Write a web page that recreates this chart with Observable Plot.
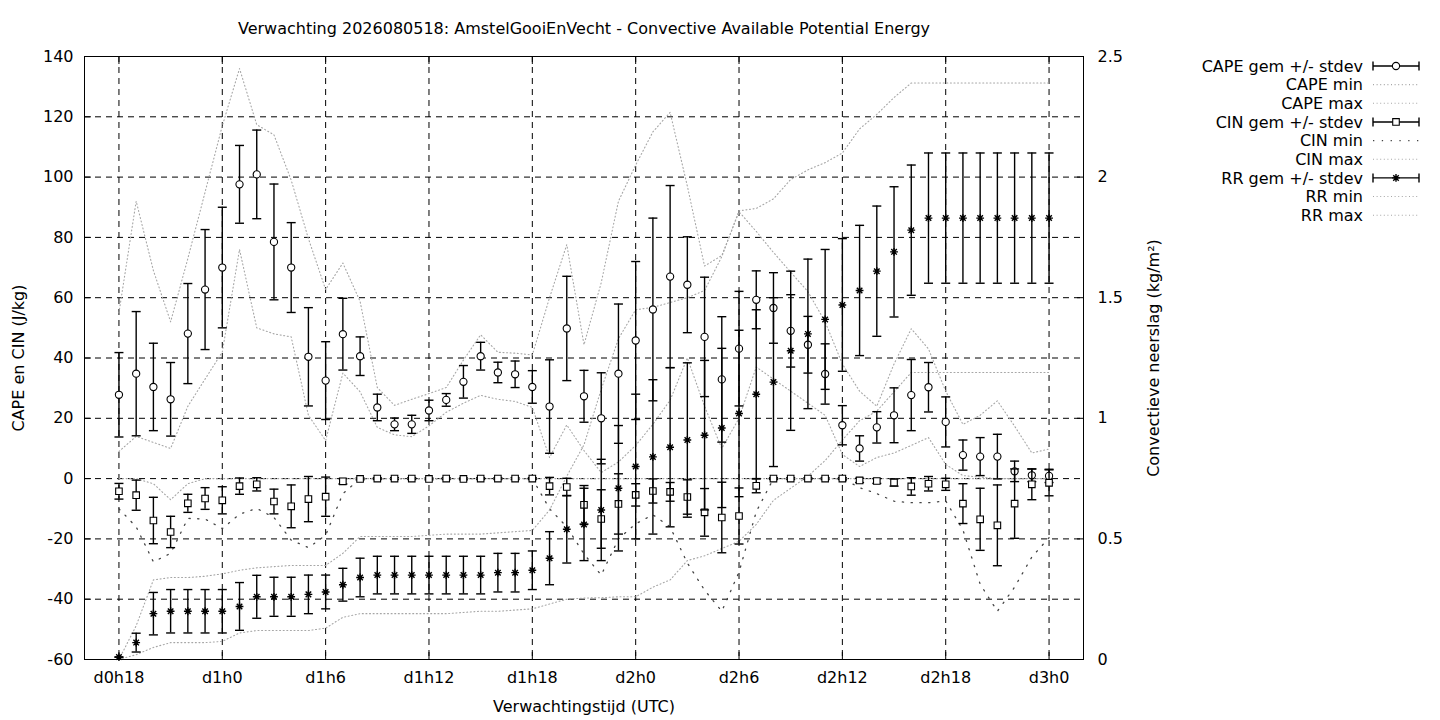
<!DOCTYPE html>
<html><head><meta charset="utf-8">
<script src="https://cdn.jsdelivr.net/npm/d3@7"></script>
<script src="https://cdn.jsdelivr.net/npm/@observablehq/plot@0.6"></script>
<style>html,body{margin:0;padding:0;background:#fff;}</style>
</head><body><div id="chart"></div>
<script>
const title = "Verwachting 2026080518: AmstelGooiEnVecht - Convective Available Potential Energy";
const xTitle = "Verwachtingstijd (UTC)";
const yTitle = "CAPE en CIN (J/kg)";
const y2Title = "Convectieve neerslag (kg/m²)";

const hours = [18,19,20,21,22,23,24,25,26,27,28,29,30,31,32,33,34,35,36,37,38,39,40,41,42,43,44,45,46,47,48,49,50,51,52,53,54,55,56,57,58,59,60,61,62,63,64,65,66,67,68,69,70,71,72];
const xTicks = [18,24,30,36,42,48,54,60,66,72];
const xTickLabels = ["d0h18","d1h0","d1h6","d1h12","d1h18","d2h0","d2h6","d2h12","d2h18","d3h0"];
const yTicks = [-60,-40,-20,0,20,40,60,80,100,120,140];
const y2Ticks = [0,0.5,1,1.5,2,2.5];
const y2TickLabels = ["0","0.5","1","1.5","2","2.5"];

const capeMean = [27.8,34.8,30.4,26.3,48.1,62.7,70.0,97.6,100.9,78.5,
  70.0,40.4,32.5,47.9,40.6,23.6,18.0,18.0,22.6,26.1,
  32.1,40.6,35.2,34.6,30.4,23.9,49.8,27.3,20.0,34.8,
  45.8,56.1,67.0,64.3,47.0,32.9,43.1,59.3,56.6,49.0,
  44.4,34.7,17.7,10.0,17.0,21.0,27.7,30.3,18.8,7.8,
  7.3,7.3,2.4,1.1,0.9];
const capeSd = [14.0,20.6,14.5,12.2,16.6,19.9,20.0,12.9,14.7,19.2,
  14.9,16.3,12.9,11.9,6.4,4.4,2.1,3.0,3.4,2.1,
  5.4,4.6,3.4,4.4,5.4,15.5,17.3,8.6,15.1,23.1,
  26.2,30.3,30.2,15.9,19.8,20.8,19.0,9.6,11.7,12.0,
  9.4,10.0,6.5,4.2,5.2,9.1,11.8,8.2,8.3,5.0,
  6.3,7.4,3.4,2.1,2.2];
const capeMin = [9,14,12,10,24,33,42,76,50,48,
  47,21,12.6,35,28.8,17,14.5,13.9,17.5,22,
  25,27.6,26.3,25.6,23.6,7,17.8,9.3,2,5.5,
  11,18,26,40,24,10,20,37,33,29,
  25,21,8,4,7,8.5,11,13.6,4.7,1,
  0.5,0,0,0,0];
const capeMax = [55,92,69,52,73,95,117,136,117.4,114,
  99,79.6,62.7,71.5,58.8,30.2,24.3,26.3,28.2,30.2,
  39.3,47.7,41.9,41.6,41,60,77.6,44.4,65,92,
  104,115,121.5,97,70.5,74,88.5,82,75,68.5,
  62,52,38,29,24,38,49.7,43,29,18,
  21,25.8,17.4,8.5,9.8];

const cinMean = [-4.2,-5.5,-13.9,-17.7,-8.2,-6.6,-7.2,-2.5,-1.9,-7.6,
  -9.2,-6.8,-6.0,-0.9,-0.1,0,0,0,-0.1,0,
  -0.1,0,0,0,0,-2.5,-2.8,-8.7,-13.4,-8.4,
  -5.4,-4.1,-4.4,-6.1,-11.2,-12.9,-12.4,-2.4,0,0,
  0,0,0,-0.6,-0.8,-1.3,-2.6,-1.7,-1.9,-8.3,
  -13.5,-15.5,-8.3,-1.9,-1.4];
const cinSd = [2.6,5.0,7.7,5.2,3.0,3.6,4.5,2.7,2.2,4.1,
  7.1,7.5,6.5,0.9,0.3,0.3,0.3,0.3,0.3,0.3,
  0.3,0.3,0.3,0.3,0.3,2.9,2.9,6.4,9.7,10.0,
  3.7,4.0,3.1,5.7,7.9,11.7,9.3,2.3,0.3,0.3,
  0.3,0.3,0.3,0.7,0.8,1.2,2.9,2.4,2.0,6.6,
  10.3,13.4,11.5,5.1,4.3];
const cinMin = [-10,-16,-27.6,-24.8,-13.2,-13.4,-16.6,-11.8,-9.9,-12.9,
  -20.4,-22.9,-18.8,-5,0,0,0,0,0,0,
  0,0,0,0,0,-10,-16,-25,-32,-20,
  -15,-12,-16,-28,-37,-44,-31,-11,0,0,
  0,0,0,-3,-5,-7.5,-8,-8,-7.4,-17,
  -35,-44,-36,-26,-19.6];
const cinMax = [0,0,-1.7,-7,-1.7,0,0,0,0,0,
  0,0,0,0,0,0,0,0,0,0,
  0,0,0,0,0,0,0,0,0,0,
  0,0,0,0,0,0,0,0,0,0,
  0,0,0,0,0,0,0,0,0,0,
  0,0,0,0,0];

const rrMean = [0.01,0.07,0.19,0.20,0.20,0.20,0.20,0.22,0.26,0.26,
  0.26,0.27,0.28,0.31,0.34,0.35,0.35,0.35,0.35,0.35,
  0.35,0.35,0.36,0.36,0.37,0.42,0.54,0.56,0.62,0.71,
  0.80,0.84,0.88,0.91,0.93,0.96,1.02,1.10,1.15,1.28,
  1.35,1.41,1.47,1.53,1.61,1.69,1.78,1.83,1.83,1.83,
  1.83,1.83,1.83,1.83,1.83];
const rrSd = [0,0.039,0.088,0.09,0.09,0.09,0.09,0.099,0.089,0.081,
  0.081,0.08,0.07,0.068,0.08,0.078,0.078,0.078,0.078,0.078,
  0.078,0.078,0.08,0.08,0.08,0.11,0.14,0.15,0.21,0.26,
  0.30,0.32,0.33,0.32,0.31,0.33,0.345,0.35,0.35,0.33,
  0.31,0.29,0.275,0.27,0.27,0.27,0.27,0.27,0.27,0.27,
  0.27,0.27,0.27,0.27,0.27];
const rrMin = [0,0.02,0.05,0.07,0.07,0.07,0.075,0.11,0.12,0.12,
  0.12,0.12,0.13,0.175,0.19,0.19,0.19,0.19,0.19,0.19,
  0.195,0.2,0.2,0.205,0.21,0.23,0.25,0.255,0.256,0.26,
  0.26,0.3,0.33,0.41,0.43,0.46,0.49,0.56,0.66,0.71,
  0.76,0.825,0.91,0.99,1.03,1.11,1.19,1.19,1.19,1.19,
  1.19,1.19,1.19,1.19,1.19];
const rrMax = [0,0.14,0.33,0.34,0.34,0.345,0.355,0.37,0.38,0.385,
  0.39,0.39,0.39,0.44,0.51,0.51,0.51,0.51,0.515,0.52,
  0.52,0.52,0.525,0.53,0.535,0.62,0.76,0.89,1.12,1.33,
  1.45,1.46,1.48,1.5,1.53,1.67,1.86,1.87,1.91,1.99,
  2.03,2.06,2.1,2.2,2.26,2.33,2.39,2.39,2.39,2.39,
  2.39,2.39,2.39,2.39,2.39];

const legendLabels = ["CAPE gem +/- stdev","CAPE min","CAPE max","CIN gem +/- stdev","CIN min","CIN max","RR gem +/- stdev","RR min","RR max"];

// secondary axis (0..2.5 kg/m2) shares the frame with the primary (-60..140 J/kg)
const yDomain = [-60, 140];
const y2Domain = [0, 2.5];
const rrToY = v => yDomain[0] + (v - y2Domain[0]) * (yDomain[1] - yDomain[0]) / (y2Domain[1] - y2Domain[0]);

const rows = hours.map((h, i) => ({
  h,
  cM: capeMean[i], cS: capeSd[i], cMin: capeMin[i], cMax: capeMax[i],
  iM: cinMean[i], iS: cinSd[i], iMin: cinMin[i], iMax: cinMax[i],
  rM: rrToY(rrMean[i]), rLo: rrToY(rrMean[i] - rrSd[i]), rHi: rrToY(rrMean[i] + rrSd[i]),
  rMin: rrToY(rrMin[i]), rMax: rrToY(rrMax[i])
}));

const capSym = {draw(ctx, size) { const w = Math.sqrt(size / Math.PI); ctx.moveTo(-w, 0); ctx.lineTo(w, 0); }};
const vcapSym = {draw(ctx, size) { const w = Math.sqrt(size / Math.PI); ctx.moveTo(0, -w); ctx.lineTo(0, w); }};
const starSym = {draw(ctx, size) {
  const r = Math.sqrt(size / Math.PI), d = r * 0.7071;
  ctx.moveTo(-r, 0); ctx.lineTo(r, 0); ctx.moveTo(0, -r); ctx.lineTo(0, r);
  ctx.moveTo(-d, -d); ctx.lineTo(d, d); ctx.moveTo(-d, d); ctx.lineTo(d, -d);
}};

const FS = 16;
const BAR_W = 1.4, CAP_R = 4.5;
const grid = {stroke: "#000", strokeWidth: 1, strokeDasharray: "6,5", strokeOpacity: 1};
const grayDots = {stroke: "#a6a6a6", strokeWidth: 1.1, strokeDasharray: "1,2.6"};
const cinMinDots = {stroke: "#444", strokeWidth: 1.3, strokeDasharray: "1.3,7.5"};
const STAR_R = 3.9, CIRCLE_R = 3.6, SQUARE_R = 3.7;

function errorMarks(lo, hi, mid, symbol, r, fill, sw) {
  return [
    Plot.ruleX(rows, {x: "h", y1: lo, y2: hi, stroke: "#000", strokeWidth: BAR_W}),
    Plot.dot(rows, {x: "h", y: lo, symbol: capSym, r: CAP_R, stroke: "#000", strokeWidth: BAR_W, fill: "none"}),
    Plot.dot(rows, {x: "h", y: hi, symbol: capSym, r: CAP_R, stroke: "#000", strokeWidth: BAR_W, fill: "none"}),
    Plot.dot(rows, {x: "h", y: mid, symbol, r, stroke: "#000", strokeWidth: sw, fill})
  ];
}

const fmtX = d => xTickLabels[xTicks.indexOf(d)];

const plot = Plot.plot({
  width: 1440, height: 720,
  marginLeft: 84, marginRight: 357, marginTop: 56, marginBottom: 61,
  x: {domain: [16, 74]},
  y: {domain: yDomain},
  style: {fontFamily: "DejaVu Sans", fontSize: FS + "px", background: "#fff", color: "#000"},
  marks: [
    Plot.gridX(xTicks, grid),
    Plot.gridY(yTicks, grid),
    Plot.line(rows, {x: "h", y: "cMin", ...grayDots}),
    Plot.line(rows, {x: "h", y: "cMax", ...grayDots}),
    Plot.line(rows, {x: "h", y: "iMin", ...cinMinDots}),
    Plot.line(rows, {x: "h", y: "iMax", ...grayDots}),
    Plot.line(rows, {x: "h", y: "rMin", ...grayDots}),
    Plot.line(rows, {x: "h", y: "rMax", ...grayDots}),
    ...errorMarks(d => d.cM - d.cS, d => d.cM + d.cS, "cM", "circle", CIRCLE_R, "#fff", 1.1),
    ...errorMarks(d => d.iM - d.iS, d => d.iM + d.iS, "iM", "square", SQUARE_R, "#fff", 1.1),
    ...errorMarks("rLo", "rHi", "rM", starSym, STAR_R, "none", 1.4),
    Plot.frame({stroke: "#000", strokeWidth: 1}),
    // inward tick marks on all four sides
    Plot.axisX(xTicks, {anchor: "bottom", tickSize: 7, dy: -7, fill: "none", label: null}),
    Plot.axisX(xTicks, {anchor: "top", tickSize: 7, dy: 7, fill: "none", label: null}),
    Plot.axisY(yTicks, {anchor: "left", tickSize: 7, dx: 7, fill: "none", label: null}),
    Plot.axisY(y2Ticks.map(rrToY), {anchor: "right", tickSize: 7, dx: -7, fill: "none", label: null}),
    // tick labels
    Plot.axisX(xTicks, {anchor: "bottom", tickSize: 0, tickPadding: 12, tickFormat: fmtX, label: null, fontSize: FS}),
    Plot.axisY(yTicks, {anchor: "left", tickSize: 0, tickPadding: 11, label: null, fontSize: FS, tickFormat: d => String(d)}),
    Plot.axisY(y2Ticks.map(rrToY), {anchor: "right", tickSize: 0, tickPadding: 14, label: null, fontSize: FS,
      tickFormat: d => y2TickLabels[y2Ticks.map(rrToY).indexOf(d)]}),
    // titles
    Plot.text([title], {frameAnchor: "top", dy: -28, fontSize: FS, textAnchor: "middle", lineAnchor: "middle"}),
    Plot.text([xTitle], {frameAnchor: "bottom", dy: 47, fontSize: FS, textAnchor: "middle", lineAnchor: "middle"}),
    Plot.text([yTitle], {frameAnchor: "left", dx: -66, rotate: -90, fontSize: FS, textAnchor: "middle", lineAnchor: "middle"}),
    Plot.text([y2Title], {frameAnchor: "right", dx: 70, rotate: -90, fontSize: FS, textAnchor: "middle", lineAnchor: "middle"})
  ]
});

// legend (top right, outside the frame)
const svg = d3.select(plot.tagName === "svg" ? plot : plot.querySelector("svg"));
const lg = svg.append("g").attr("font-family", "DejaVu Sans").attr("font-size", FS).attr("fill", "#000");
const legendKinds = [
  {kind: "err", sym: d3.symbolCircle, r: CIRCLE_R, fill: "#fff", sw: 1.1},
  {kind: "line", style: grayDots},
  {kind: "line", style: grayDots},
  {kind: "err", sym: d3.symbolSquare, r: SQUARE_R, fill: "#fff", sw: 1.1},
  {kind: "line", style: cinMinDots},
  {kind: "line", style: grayDots},
  {kind: "err", sym: starSym, r: STAR_R, fill: "none", sw: 1.4},
  {kind: "line", style: grayDots},
  {kind: "line", style: grayDots}
];
const lx0 = 1373, lx1 = 1419, ltx = 1363, ly0 = 66, ldy = 18.65;
legendLabels.forEach((label, i) => {
  const y = ly0 + i * ldy, k = legendKinds[i];
  lg.append("text").attr("x", ltx).attr("y", y).attr("dy", "0.35em").attr("text-anchor", "end").text(label);
  if (k.kind === "err") {
    lg.append("line").attr("x1", lx0).attr("x2", lx1).attr("y1", y).attr("y2", y).attr("stroke", "#000").attr("stroke-width", BAR_W);
    [lx0, lx1].forEach(x => lg.append("path").attr("transform", `translate(${x},${y})`)
      .attr("d", d3.symbol(vcapSym, CAP_R * CAP_R * Math.PI)()).attr("stroke", "#000").attr("stroke-width", BAR_W).attr("fill", "none"));
    lg.append("path").attr("transform", `translate(${(lx0 + lx1) / 2},${y})`)
      .attr("d", d3.symbol(k.sym, k.r * k.r * Math.PI)()).attr("stroke", "#000").attr("stroke-width", k.sw).attr("fill", k.fill);
  } else {
    lg.append("line").attr("x1", lx0).attr("x2", lx1).attr("y1", y).attr("y2", y)
      .attr("stroke", k.style.stroke).attr("stroke-width", k.style.strokeWidth).attr("stroke-dasharray", k.style.strokeDasharray);
  }
});

document.getElementById("chart").appendChild(plot);
</script>
</body></html>
